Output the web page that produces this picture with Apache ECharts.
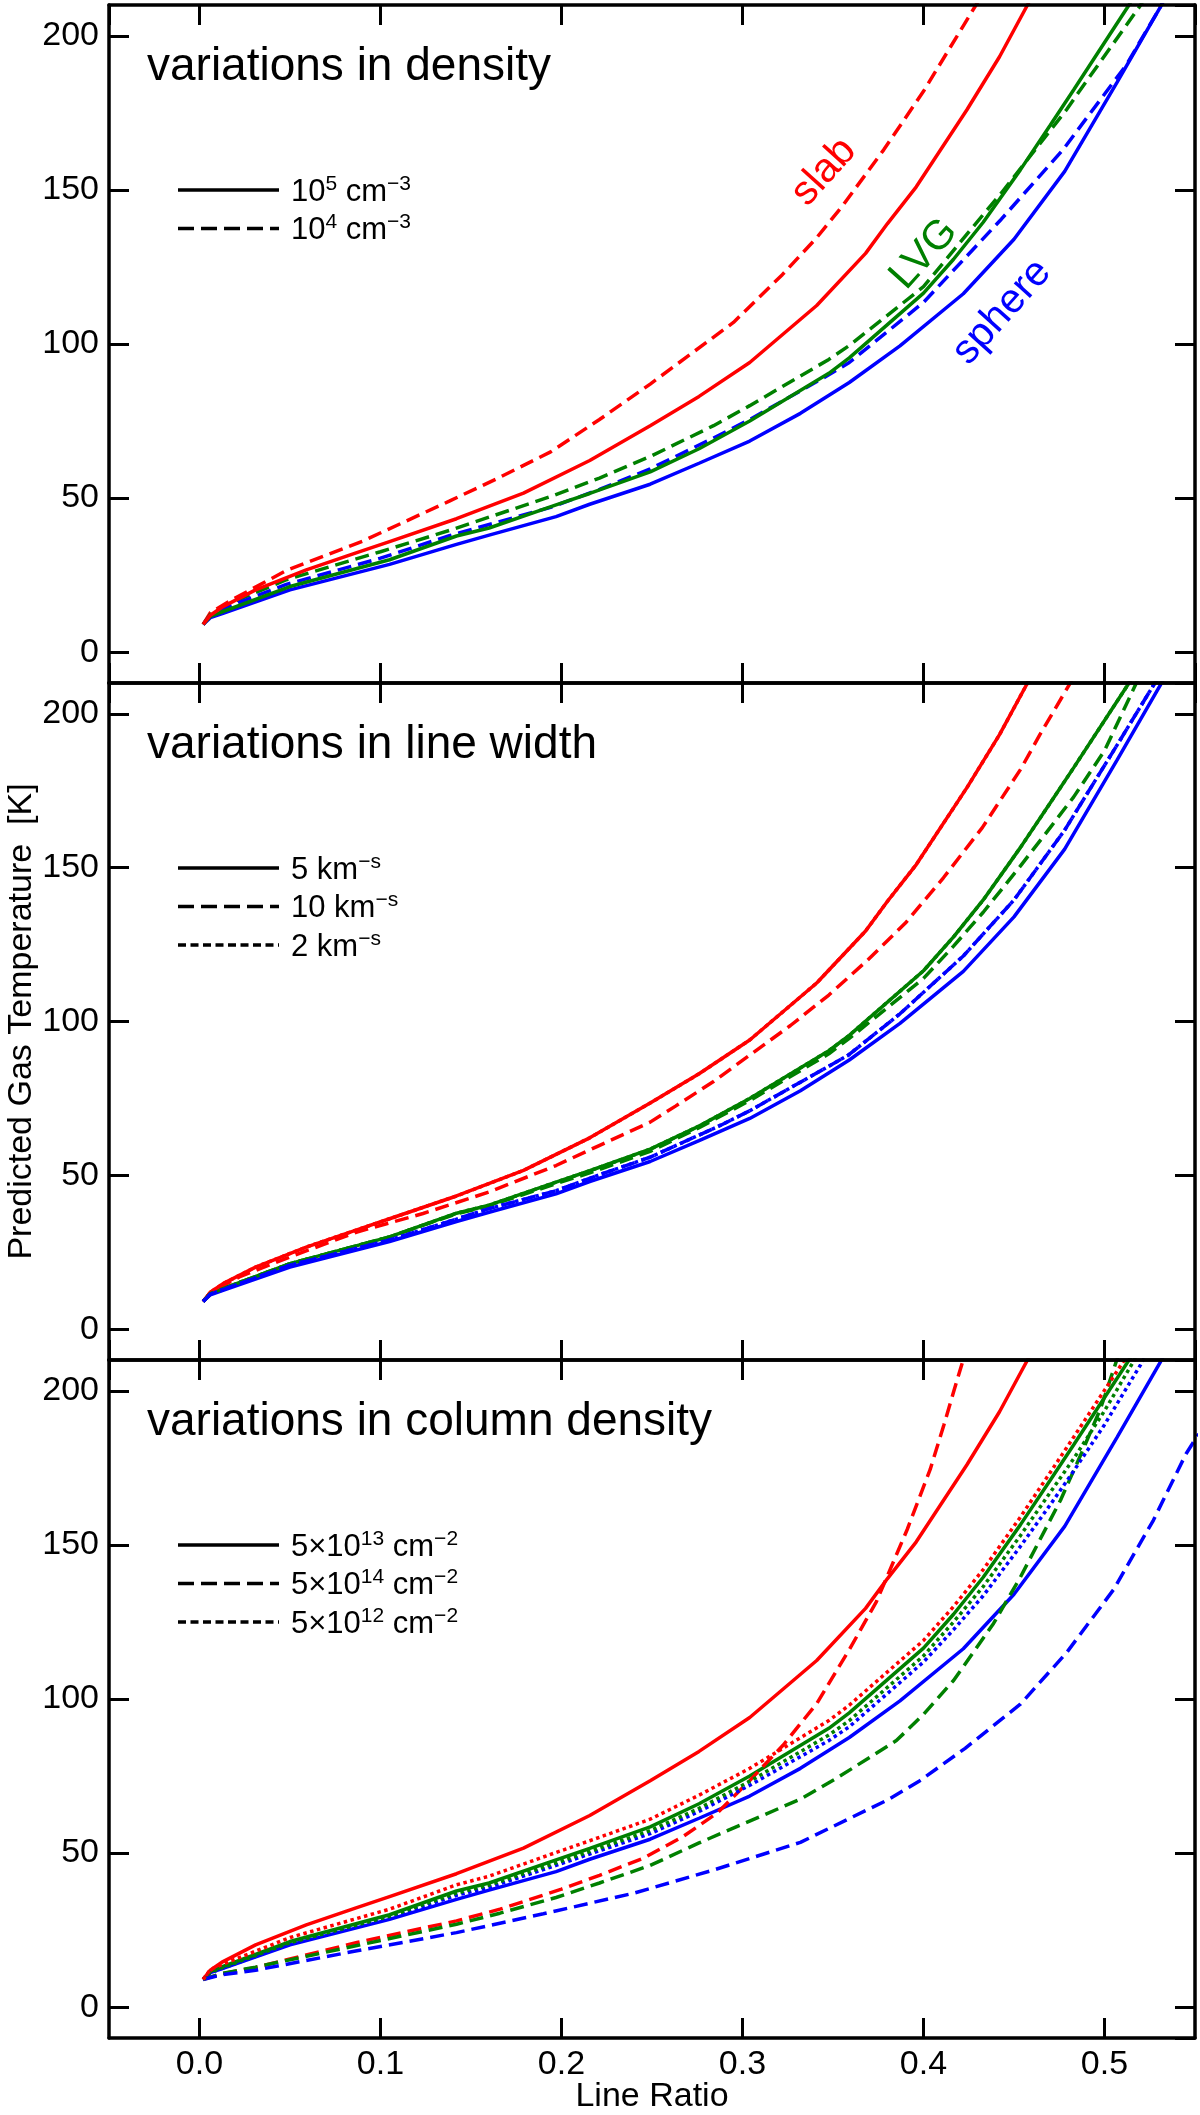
<!DOCTYPE html>
<html><head><meta charset="utf-8">
<script src="https://cdn.jsdelivr.net/npm/echarts@6/dist/echarts.min.js"></script>
<style>html,body{margin:0;padding:0;background:#fff}#c{width:1200px;height:2115px}</style>
</head><body><div id="c"></div>
<script>
// ---------- data (Line Ratio, Temperature K) ----------
// baseline models (solid in every panel): 1e5 cm-3, 5 km/s, 5e13 cm-2
const baseRed = [[0.002,9],[0.006,12],[0.013,14.8],[0.031,20.2],[0.059,26.7],[0.0865,32.2],[0.0875,31.6],[0.105,35.9],[0.142,43.3],[0.179,51.6],[0.2156,62.2],[0.249,73.5],[0.276,83],[0.304,94],[0.341,112.5],[0.368,129.4],[0.38,139],[0.396,151],[0.424,176],[0.442,193.2],[0.457,209.5],[0.461,214]];
const baseGreen = [[0.002,9],[0.006,11.6],[0.013,13.2],[0.05,21.3],[0.105,30],[0.142,37.7],[0.16,40.3],[0.197,47.8],[0.2156,51.5],[0.249,58.5],[0.276,66],[0.304,75],[0.3477,90.5],[0.359,95.5],[0.4,116.5],[0.4166,127.5],[0.433,139.5],[0.4535,156.5],[0.47,171],[0.483,182.5],[0.513,209.5],[0.517,213.5]];
const baseBlue = [[0.002,9],[0.006,11.2],[0.013,12.6],[0.05,20.2],[0.105,28.5],[0.142,35],[0.16,38],[0.197,44],[0.2156,48],[0.249,54.5],[0.276,61.3],[0.304,68.5],[0.332,77.5],[0.359,87.5],[0.387,99.4],[0.422,116.3],[0.45,134],[0.478,156],[0.507,185],[0.531,209.5],[0.535,214]];
// panel 1: density 1e4 cm-3 (dashed)
const densRed = [[0.002,9],[0.006,12.8],[0.017,16.7],[0.048,26.5],[0.09,36],[0.138,49],[0.165,56.5],[0.194,65],[0.221,75.5],[0.249,87],[0.295,107],[0.322,122.5],[0.341,134.5],[0.3555,145],[0.378,163],[0.4,182],[0.4145,196],[0.429,210],[0.432,213]];
const densGreen = [[0.002,9],[0.006,12.2],[0.017,15.9],[0.048,23.5],[0.1,32.6],[0.138,39.5],[0.194,50.5],[0.221,56.5],[0.249,63.5],[0.284,73.5],[0.304,80],[0.3477,95],[0.359,99.5],[0.4,118.6],[0.433,142],[0.443,149],[0.479,176],[0.4855,181.5],[0.5194,209.5],[0.522,212]];
const densBlue = [[0.002,9],[0.006,11.9],[0.017,15],[0.048,22],[0.1,30.5],[0.138,37.8],[0.194,47],[0.221,52.8],[0.249,59.5],[0.284,69.5],[0.304,75.5],[0.3477,90],[0.359,94],[0.4,113.5],[0.443,140.5],[0.477,163],[0.512,190.5],[0.531,209.5],[0.534,213]];
// panel 2: line width 10 km/s (dashed) and 2 km/s (dotted)
const widthRedDash = [[0.002,9],[0.006,12],[0.022,17],[0.05,23.5],[0.087,31.6],[0.1235,37.6],[0.16,44.6],[0.197,53.2],[0.2205,59.6],[0.249,67.3],[0.263,72.5],[0.284,80.5],[0.305,89.5],[0.3265,98.7],[0.3477,108.6],[0.369,119.9],[0.39,132],[0.411,146.7],[0.4325,163],[0.4537,182],[0.4643,193.2],[0.4813,210.2],[0.484,214]];
const widthGreenDash = [[0.002,9],[0.006,11.6],[0.013,13.2],[0.05,21.3],[0.105,30],[0.142,37.5],[0.16,40.1],[0.197,47.3],[0.2156,50.8],[0.249,57.8],[0.276,65.5],[0.304,74.3],[0.3477,89.5],[0.359,94.5],[0.4,114],[0.4166,124.5],[0.433,135.5],[0.4535,150.5],[0.47,163],[0.483,173],[0.5,188],[0.518,210.5],[0.521,214]];
const widthBlueDash = [[0.002,9],[0.006,11.4],[0.013,12.9],[0.05,20.8],[0.105,29],[0.142,35.8],[0.16,39.2],[0.197,45],[0.2205,50.1],[0.249,55.9],[0.288,66.3],[0.304,71],[0.3583,89],[0.387,102.5],[0.422,121.3],[0.45,139.5],[0.478,162.2],[0.509,191.8],[0.528,210.2],[0.531,214]];
const widthRedDot = baseRed;
const widthGreenDot = baseGreen;
const widthBlueDot = widthBlueDash;
// panel 3: column density 5e14 (dashed) and 5e12 (dotted)
const colRedDash = [[0.002,9],[0.012,10.8],[0.031,12.9],[0.087,21],[0.142,28],[0.166,31.8],[0.2,38.3],[0.221,42.8],[0.245,48.3],[0.267,55.3],[0.286,63],[0.304,73.5],[0.3224,85],[0.341,98.5],[0.359,116],[0.374,131.6],[0.3779,137],[0.391,155],[0.4037,174.5],[0.4113,189],[0.4166,199.6],[0.4221,210.4],[0.424,214]];
const colGreenDash = [[0.002,9],[0.012,10.9],[0.031,13],[0.087,20],[0.142,26.9],[0.166,30.5],[0.197,35.6],[0.221,40.3],[0.249,46],[0.276,53.3],[0.332,67.5],[0.352,74.3],[0.385,86.5],[0.4,95],[0.4166,106],[0.4387,124.5],[0.4535,139.5],[0.4757,164.5],[0.4867,179],[0.4978,194.2],[0.507,210.4],[0.509,214]];
const colBlueDash = [[0.002,9],[0.012,10.5],[0.031,12],[0.087,18.3],[0.142,24.2],[0.19,30.3],[0.24,37],[0.284,44.5],[0.332,53.5],[0.38,67.2],[0.398,73.5],[0.423,84],[0.4535,98.3],[0.479,115],[0.505,135.5],[0.527,158],[0.545,179.5],[0.552,186]];
const colRedDot = [[0.002,9],[0.006,12.2],[0.013,14],[0.05,22.6],[0.105,31.8],[0.142,39.7],[0.16,42.5],[0.197,50.2],[0.2156,54],[0.249,61],[0.276,68.8],[0.304,77.5],[0.3477,93],[0.359,98],[0.4,119],[0.4166,130],[0.433,142],[0.4535,159],[0.47,173.5],[0.483,185],[0.511,210],[0.515,214]];
const colGreenDot = [[0.002,9],[0.006,11.4],[0.013,12.9],[0.05,20.9],[0.105,29.5],[0.142,37],[0.16,39.6],[0.197,46.8],[0.2156,50.5],[0.249,57.3],[0.276,64.5],[0.304,73.3],[0.3477,88.3],[0.359,93],[0.4,114],[0.4166,125],[0.433,136.5],[0.4535,153],[0.47,167],[0.483,178],[0.5,193.5],[0.516,209.5],[0.52,214]];
const colBlueDot = [[0.002,9],[0.006,11.2],[0.013,12.7],[0.05,20.5],[0.105,29],[0.142,36.3],[0.16,38.9],[0.197,46],[0.2156,49.7],[0.249,56.3],[0.276,63.5],[0.304,72],[0.3477,86.5],[0.359,91],[0.4,112],[0.4166,122.5],[0.433,133.5],[0.4535,149.5],[0.47,163],[0.483,174],[0.5,189],[0.52,208.5],[0.525,214]];

// ---------- texts ----------
const panelTitles = ['variations in density', 'variations in line width', 'variations in column density'];
const legendTexts = [
  ['{n|10}{s|5}{n| cm}{s|\u22123}', '{n|10}{s|4}{n| cm}{s|\u22123}'],
  ['{n|5 km}{s|\u2212s}', '{n|10 km}{s|\u2212s}', '{n|2 km}{s|\u2212s}'],
  ['{n|5\u00d710}{s|13}{n| cm}{s|\u22122}', '{n|5\u00d710}{s|14}{n| cm}{s|\u22122}', '{n|5\u00d710}{s|12}{n| cm}{s|\u22122}']
];
const curveLabels = ['slab', 'LVG', 'sphere'];
const xTitle = 'Line Ratio';
const yTitle = 'Predicted Gas Temperature  [K]';

// ---------- styling ----------
const RED = '#ff0000', GREEN = '#008000', BLUE = '#0000ff';
const SOLID = 'solid', DASH = [14, 7], DOT = [3.5, 3.5];
const FONT = 'Liberation Sans, Arial, Helvetica, sans-serif';
const LW = 3.5;

const panelSeries = [
  [[densRed, RED, DASH], [densGreen, GREEN, DASH], [densBlue, BLUE, DASH],
   [baseBlue, BLUE, SOLID], [baseGreen, GREEN, SOLID], [baseRed, RED, SOLID]],
  [[widthRedDot, RED, DOT], [widthGreenDot, GREEN, DOT],
   [baseBlue, BLUE, SOLID], [baseGreen, GREEN, SOLID], [baseRed, RED, SOLID],
   [widthRedDash, RED, DASH], [widthGreenDash, GREEN, DASH], [widthBlueDash, BLUE, DASH], [widthBlueDot, BLUE, DOT]],
  [[baseBlue, BLUE, SOLID], [baseGreen, GREEN, SOLID], [baseRed, RED, SOLID],
   [colRedDash, RED, DASH], [colGreenDash, GREEN, DASH], [colBlueDash, BLUE, DASH],
   [colBlueDot, BLUE, DOT], [colGreenDot, GREEN, DOT], [colRedDot, RED, DOT]]
];
const legendDash = [SOLID, [16, 7], [8, 4.5]];

const grids = [
  {left: 109, top: 5, width: 1086, height: 678, containLabel: false, outerBoundsMode: 'none'},
  {left: 109, top: 683, width: 1086, height: 677, containLabel: false, outerBoundsMode: 'none'},
  {left: 109, top: 1360, width: 1086, height: 678, containLabel: false, outerBoundsMode: 'none'}
];

const xAxes = [], yAxes = [], series = [], graphics = [];
grids.forEach((g, i) => {
  const common = {
    gridIndex: i, type: 'value', splitLine: {show: false},
    axisLine: {show: true, onZero: false, lineStyle: {color: '#000', width: LW}},
    axisTick: {show: true, inside: true, length: 20, lineStyle: {color: '#000', width: 3}},
    nameMoveOverlap: false,
    z: 10
  };
  const lab = (show) => ({show, color: '#000', fontSize: 34, fontFamily: FONT, margin: 10,
                          showMinLabel: false, showMaxLabel: false});
  xAxes.push(Object.assign({}, common, {position: 'bottom', min: -0.05, max: 0.55, splitNumber: 6,
    axisLabel: Object.assign(lab(i === 2), {formatter: v => v.toFixed(1)}),
    name: i === 2 ? xTitle : '', nameLocation: 'middle', nameGap: 42,
    nameTextStyle: {color: '#000', fontSize: 34, fontFamily: FONT}}));
  xAxes.push(Object.assign({}, common, {position: 'top', min: -0.05, max: 0.55, splitNumber: 6, axisLabel: lab(false)}));
  yAxes.push(Object.assign({}, common, {position: 'left', min: -10, max: 210, splitNumber: 4,
    axisLabel: Object.assign(lab(true), {formatter: v => String(Math.round(v))}),
    name: i === 1 ? yTitle : '', nameLocation: 'middle', nameGap: 70, nameRotate: 90,
    nameTextStyle: {color: '#000', fontSize: 34, fontFamily: FONT}}));
  yAxes.push(Object.assign({}, common, {position: 'right', min: -10, max: 210, splitNumber: 4, axisLabel: lab(false)}));

  panelSeries[i].forEach(([data, color, type], k) => {
    series.push({type: 'line', xAxisIndex: 2 * i, yAxisIndex: 2 * i, data, symbol: 'none',
      showSymbol: false, clip: true, silent: true, z: 2 + k * 0.01,
      lineStyle: {color, width: LW, type, cap: 'butt'}});
  });

  // panel title
  graphics.push({type: 'text', x: 147, y: g.top + 62, silent: true,
    style: {text: panelTitles[i], fontSize: 46, fontFamily: FONT, fill: '#000', align: 'left', verticalAlign: 'middle'}});
  // legend
  legendTexts[i].forEach((t, r) => {
    const y = g.top + 185 + r * 38.5;
    graphics.push({type: 'line', silent: true, shape: {x1: 178, y1: y, x2: 279, y2: y},
      style: {stroke: '#000', lineWidth: LW, lineDash: legendDash[r] === SOLID ? null : legendDash[r]}});
    graphics.push({type: 'text', x: 291, y: y + 2, silent: true,
      style: {text: t, fontSize: 31, fontFamily: FONT, fill: '#000', align: 'left', verticalAlign: 'middle',
        rich: {
          n: {fontSize: 31, fontFamily: FONT, fill: '#000', verticalAlign: 'middle', lineHeight: 31},
          s: {fontSize: 21, fontFamily: FONT, fill: '#000', verticalAlign: 'middle', lineHeight: 21, padding: [0, 0, 16, 0]}
        }}});
  });
});

// curve labels in the top panel
const labelPos = [[824, 172, RED], [924, 254, GREEN], [1002, 312, BLUE]];
curveLabels.forEach((t, i) => {
  graphics.push({type: 'text', x: labelPos[i][0], y: labelPos[i][1], rotation: 48 * Math.PI / 180, silent: true,
    style: {text: t, fontSize: 41, fontFamily: FONT, fill: labelPos[i][2], align: 'center', verticalAlign: 'middle'}});
});

const chart = echarts.init(document.getElementById('c'), null, {renderer: 'canvas'});
chart.setOption({
  animation: false,
  backgroundColor: '#fff',
  grid: grids,
  xAxis: xAxes,
  yAxis: yAxes,
  series,
  graphic: graphics
});
</script></body></html>
